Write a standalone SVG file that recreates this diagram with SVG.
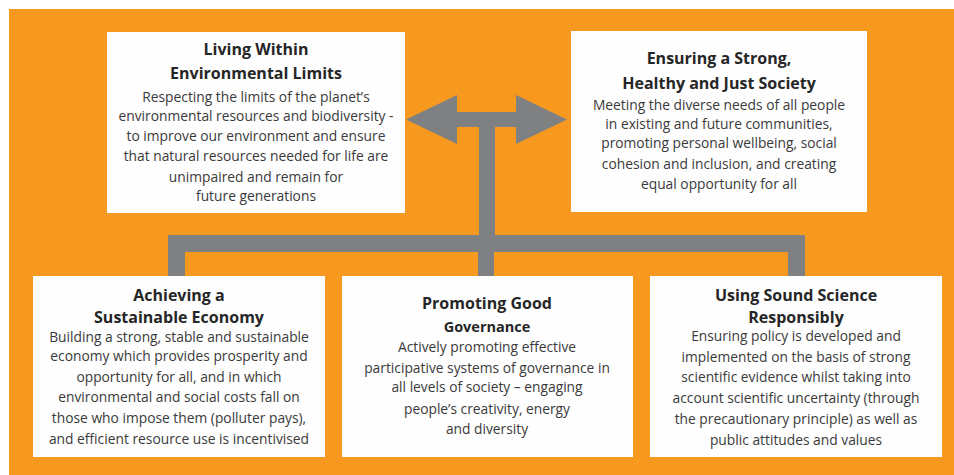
<svg xmlns="http://www.w3.org/2000/svg" width="954" height="475" viewBox="0 0 954 475">
<style>
.box{fill:#fefefe}
.conn{fill:#7f8082}
text{font-family:"Open Sans","Noto Sans","Liberation Sans",sans-serif;text-anchor:middle}
.t{font-size:16px;font-weight:bold;fill:#262626}
.t2{font-size:14.5px;font-weight:bold;fill:#262626}
.b{font-size:13.8px;fill:#3a3a3a}
</style>
<rect x="0" y="0" width="954" height="475" fill="#ffffff"/>
<rect x="9" y="9" width="945" height="466" fill="#f7991e"/>
<g id="connectors">
<polygon class="conn" points="406,119.5 457,95 457,112 516,112 516,95 567,119.5 516,144 516,127 495,127 495,252 479,252 479,127 457,127 457,144"/>
<rect class="conn" x="168" y="235" width="637" height="17"/>
<rect class="conn" x="168" y="235" width="17" height="41"/>
<rect class="conn" x="478" y="235" width="16" height="41"/>
<rect class="conn" x="788" y="235" width="17" height="41"/>
</g>
<g id="living-within-limits">
<rect class="box" x="107" y="32" width="298" height="181"/>
<text class="t" x="256" y="55">Living Within</text>
<text class="t" x="256" y="79">Environmental Limits</text>
<text class="b" x="256" y="102">Respecting the limits of the planet’s</text>
<text class="b" x="256" y="121">environmental resources and biodiversity -</text>
<text class="b" x="256" y="141">to improve our environment and ensure</text>
<text class="b" x="256" y="161">that natural resources needed for life are</text>
<text class="b" x="256" y="182">unimpaired and remain for</text>
<text class="b" x="256" y="201">future generations</text>
</g>
<g id="strong-healthy-society">
<rect class="box" x="571" y="31" width="296" height="181"/>
<text class="t" x="719" y="64">Ensuring a Strong,</text>
<text class="t" x="719" y="89">Healthy and Just Society</text>
<text class="b" x="719" y="110">Meeting the diverse needs of all people</text>
<text class="b" x="719" y="129">in existing and future communities,</text>
<text class="b" x="719" y="148">promoting personal wellbeing, social</text>
<text class="b" x="719" y="169">cohesion and inclusion, and creating</text>
<text class="b" x="719" y="189">equal opportunity for all</text>
</g>
<g id="sustainable-economy">
<rect class="box" x="33" y="276" width="292" height="181"/>
<text class="t" x="179" y="301">Achieving a</text>
<text class="t" x="179" y="323">Sustainable Economy</text>
<text class="b" x="179" y="342">Building a strong, stable and sustainable</text>
<text class="b" x="179" y="361">economy which provides prosperity and</text>
<text class="b" x="179" y="382">opportunity for all, and in which</text>
<text class="b" x="179" y="402">environmental and social costs fall on</text>
<text class="b" x="179" y="423">those who impose them (polluter pays),</text>
<text class="b" x="179" y="444">and efficient resource use is incentivised</text>
</g>
<g id="good-governance">
<rect class="box" x="342" y="276" width="291" height="181"/>
<text class="t" x="487" y="309">Promoting Good</text>
<text class="t2" x="487" y="332">Governance</text>
<text class="b" x="487" y="352">Actively promoting effective</text>
<text class="b" x="487" y="373">participative systems of governance in</text>
<text class="b" x="487" y="392">all levels of society – engaging</text>
<text class="b" x="487" y="414">people’s creativity, energy</text>
<text class="b" x="487" y="434">and diversity</text>
</g>
<g id="sound-science">
<rect class="box" x="650" y="276" width="292" height="181"/>
<text class="t" x="796" y="301">Using Sound Science</text>
<text class="t" x="796" y="323">Responsibly</text>
<text class="b" x="796" y="341">Ensuring policy is developed and</text>
<text class="b" x="796" y="362">implemented on the basis of strong</text>
<text class="b" x="796" y="382">scientific evidence whilst taking into</text>
<text class="b" x="796" y="403">account scientific uncertainty (through</text>
<text class="b" x="796" y="424">the precautionary principle) as well as</text>
<text class="b" x="796" y="445">public attitudes and values</text>
</g>
</svg>
